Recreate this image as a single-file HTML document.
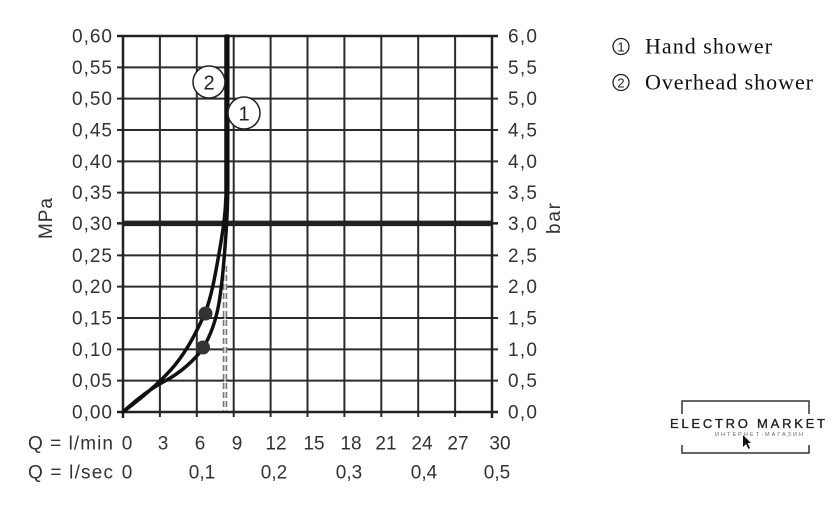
<!DOCTYPE html>
<html>
<head>
<meta charset="utf-8">
<style>
  html,body{margin:0;padding:0;background:#fff;}
  svg{display:block;}
  .ax{font-family:"Liberation Sans",sans-serif;font-size:19px;fill:#333;}
  .lg{font-family:"Liberation Serif",serif;font-size:22px;fill:#111;}
</style>
</head>
<body>
<svg width="840" height="506" viewBox="0 0 840 506" xmlns="http://www.w3.org/2000/svg">
  <rect width="840" height="506" fill="#fff"/>

  <!-- grid -->
  <g stroke="#2b2b2b" stroke-width="2" fill="none">
    <line x1="159.9" y1="36" x2="159.9" y2="417"/>
    <line x1="196.8" y1="36" x2="196.8" y2="417"/>
    <line x1="233.7" y1="36" x2="233.7" y2="417"/>
    <line x1="270.6" y1="36" x2="270.6" y2="417"/>
    <line x1="307.5" y1="36" x2="307.5" y2="417"/>
    <line x1="344.4" y1="36" x2="344.4" y2="417"/>
    <line x1="381.3" y1="36" x2="381.3" y2="417"/>
    <line x1="418.2" y1="36" x2="418.2" y2="417"/>
    <line x1="455.1" y1="36" x2="455.1" y2="417"/>
    <line x1="117" y1="67.33" x2="498" y2="67.33"/>
    <line x1="117" y1="98.67" x2="498" y2="98.67"/>
    <line x1="117" y1="130" x2="498" y2="130"/>
    <line x1="117" y1="161.33" x2="498" y2="161.33"/>
    <line x1="117" y1="192.67" x2="498" y2="192.67"/>
    <line x1="117" y1="255.33" x2="498" y2="255.33"/>
    <line x1="117" y1="286.67" x2="498" y2="286.67"/>
    <line x1="117" y1="318" x2="498" y2="318"/>
    <line x1="117" y1="349.33" x2="498" y2="349.33"/>
    <line x1="117" y1="380.67" x2="498" y2="380.67"/>
  </g>
  <g stroke="#222" stroke-width="2.5" fill="none">
    <line x1="117" y1="36" x2="498" y2="36"/>
    <line x1="117" y1="412" x2="498" y2="412"/>
    <line x1="123" y1="35" x2="123" y2="418"/>
    <line x1="492" y1="35" x2="492" y2="418"/>
    <line x1="117" y1="223.33" x2="123" y2="223.33"/>
    <line x1="492" y1="223.33" x2="498" y2="223.33"/>
  </g>
  <line x1="123" y1="223.33" x2="492" y2="223.33" stroke="#222" stroke-width="5.5"/>

  <!-- dashed line -->
  <line x1="225" y1="266" x2="225" y2="411" stroke="#777" stroke-width="4.5" stroke-dasharray="6,3"/>
  <line x1="225" y1="266" x2="225" y2="411" stroke="#fff" stroke-width="1.2"/>

  <!-- curves -->
  <g stroke="#111" stroke-width="3.5" fill="none" stroke-linecap="round" stroke-linejoin="round">
    <path d="M123,412 C140,399 160,383 175,365 C188,349 197,331 205,313 C212,296 216,270 220,248 C223,230 225.5,215 226,195 L226,36"/>
    <path d="M123,412 C138,398 150,389 165,381 C180,373 195,360 203,348 C211,335 216,320 219,303 C222,285 224,262 225.5,240 C227,222 227.7,205 227.8,185 L227.8,36"/>
  </g>
  <circle cx="205.5" cy="313.5" r="7" fill="#333"/>
  <circle cx="203" cy="347.5" r="7" fill="#333"/>

  <!-- curve labels -->
  <circle cx="209" cy="82" r="16" fill="#fff" stroke="#222" stroke-width="1.5"/>
  <text x="209" y="89.5" text-anchor="middle" class="ax" style="font-size:20px;fill:#222">2</text>
  <circle cx="244" cy="113" r="16" fill="#fff" stroke="#222" stroke-width="1.5"/>
  <text x="244" y="120.5" text-anchor="middle" class="ax" style="font-size:20px;fill:#222">1</text>

  <!-- left y labels -->
  <g class="ax">
    <text x="72" y="42.5" textLength="40" lengthAdjust="spacing">0,60</text>
    <text x="72" y="73.8" textLength="40" lengthAdjust="spacing">0,55</text>
    <text x="72" y="105.2" textLength="40" lengthAdjust="spacing">0,50</text>
    <text x="72" y="136.5" textLength="40" lengthAdjust="spacing">0,45</text>
    <text x="72" y="167.8" textLength="40" lengthAdjust="spacing">0,40</text>
    <text x="72" y="199.2" textLength="40" lengthAdjust="spacing">0,35</text>
    <text x="72" y="229.8" textLength="40" lengthAdjust="spacing">0,30</text>
    <text x="72" y="261.8" textLength="40" lengthAdjust="spacing">0,25</text>
    <text x="72" y="293.2" textLength="40" lengthAdjust="spacing">0,20</text>
    <text x="72" y="324.5" textLength="40" lengthAdjust="spacing">0,15</text>
    <text x="72" y="355.8" textLength="40" lengthAdjust="spacing">0,10</text>
    <text x="72" y="387.2" textLength="40" lengthAdjust="spacing">0,05</text>
    <text x="72" y="418.5" textLength="40" lengthAdjust="spacing">0,00</text>
  </g>
  <!-- right y labels -->
  <g class="ax">
    <text x="508" y="42.5" textLength="29" lengthAdjust="spacing">6,0</text>
    <text x="508" y="73.8" textLength="29" lengthAdjust="spacing">5,5</text>
    <text x="508" y="105.2" textLength="29" lengthAdjust="spacing">5,0</text>
    <text x="508" y="136.5" textLength="29" lengthAdjust="spacing">4,5</text>
    <text x="508" y="167.8" textLength="29" lengthAdjust="spacing">4,0</text>
    <text x="508" y="199.2" textLength="29" lengthAdjust="spacing">3,5</text>
    <text x="508" y="229.8" textLength="29" lengthAdjust="spacing">3,0</text>
    <text x="508" y="261.8" textLength="29" lengthAdjust="spacing">2,5</text>
    <text x="508" y="293.2" textLength="29" lengthAdjust="spacing">2,0</text>
    <text x="508" y="324.5" textLength="29" lengthAdjust="spacing">1,5</text>
    <text x="508" y="355.8" textLength="29" lengthAdjust="spacing">1,0</text>
    <text x="508" y="387.2" textLength="29" lengthAdjust="spacing">0,5</text>
    <text x="508" y="418.5" textLength="29" lengthAdjust="spacing">0,0</text>
  </g>

  <!-- axis titles -->
  <text class="ax" transform="translate(52,239) rotate(-90)" textLength="41" lengthAdjust="spacing">MPa</text>
  <text class="ax" transform="translate(560,234) rotate(-90)" textLength="31" lengthAdjust="spacing">bar</text>

  <!-- bottom labels -->
  <g class="ax" text-anchor="middle">
    <text x="28" y="449.5" text-anchor="start" textLength="85" lengthAdjust="spacing">Q = l/min</text>
    <text x="127" y="449.5">0</text>
    <text x="163" y="449.5">3</text>
    <text x="200" y="449.5">6</text>
    <text x="237" y="449.5">9</text>
    <text x="276" y="449.5">12</text>
    <text x="314" y="449.5">15</text>
    <text x="351" y="449.5">18</text>
    <text x="386" y="449.5">21</text>
    <text x="422" y="449.5">24</text>
    <text x="458" y="449.5">27</text>
    <text x="500" y="449.5">30</text>

    <text x="28" y="478.5" text-anchor="start" textLength="85" lengthAdjust="spacing">Q = l/sec</text>
    <text x="127" y="478.5">0</text>
    <text x="202" y="478.5">0,1</text>
    <text x="274" y="478.5">0,2</text>
    <text x="349" y="478.5">0,3</text>
    <text x="424" y="478.5">0,4</text>
    <text x="497" y="478.5">0,5</text>
  </g>

  <!-- legend -->
  <circle cx="621" cy="46.5" r="8" fill="none" stroke="#222" stroke-width="1.3"/>
  <text x="621" y="51.3" text-anchor="middle" style="font-family:'Liberation Sans',sans-serif;font-size:13px;fill:#222">1</text>
  <text x="645" y="53.5" class="lg" textLength="127" lengthAdjust="spacing">Hand shower</text>
  <circle cx="621" cy="82.5" r="8" fill="none" stroke="#222" stroke-width="1.3"/>
  <text x="621" y="87.3" text-anchor="middle" style="font-family:'Liberation Sans',sans-serif;font-size:13px;fill:#222">2</text>
  <text x="645" y="89.5" class="lg" textLength="168" lengthAdjust="spacing">Overhead shower</text>

  <!-- logo -->
  <g stroke="#333" stroke-width="1.5" fill="none">
    <polyline points="682,414 682,401 809,401 809,414"/>
    <polyline points="682,445 682,453 809,453 809,445"/>
  </g>
  <text x="670" y="428" textLength="155" lengthAdjust="spacing" style="font-family:'Liberation Sans',sans-serif;font-size:13px;fill:#222;stroke:#222;stroke-width:0.35">ELECTRO MARKET</text>
  <text x="715" y="436" textLength="88" lengthAdjust="spacing" style="font-family:'Liberation Sans',sans-serif;font-size:5.5px;fill:#666">ИНТЕРНЕТ-МАГАЗИН</text>
  <polygon points="743,435 743,447 746,444 748.5,449 750,448 747.5,443 751,443" fill="#111"/>
</svg>
</body>
</html>
